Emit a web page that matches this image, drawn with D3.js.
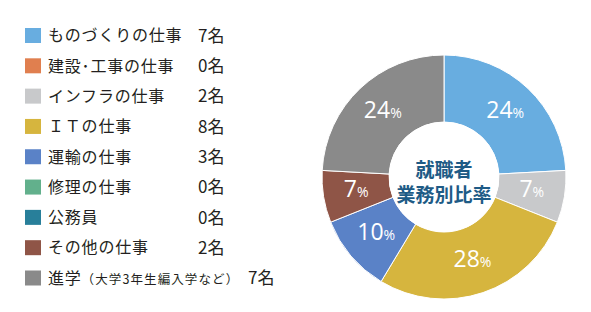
<!DOCTYPE html>
<html>
<head>
<meta charset="utf-8">
<script src="https://cdn.jsdelivr.net/npm/d3@7"></script>
<style>
  html, body { margin: 0; padding: 0; background: #fff; }
  svg { display: block; }
  text { font-family: "Noto Sans CJK JP", "Noto Sans", sans-serif; }
</style>
</head>
<body>
<div id="chart"></div>
<script>
// Data
const categories = ['ものづくりの仕事', '建設･工事の仕事', 'インフラの仕事', 'ＩＴの仕事', '運輸の仕事', '修理の仕事', '公務員', 'その他の仕事', '進学'];
const counts = [7, 0, 2, 8, 3, 0, 0, 2, 7];
const colors = ['#68ade0', '#e07f4f', '#c8c9cb', '#d6b53e', '#5a82c7', '#62b08c', '#287f9a', '#8f5547', '#8a8a8a'];
const centerLines = ['就職者', '業務別比率'];

const width = 591;
const height = 312;

const svg = d3.select('#chart')
  .append('svg')
  .attr('width', width)
  .attr('height', height);

// Legend
const rowY = d3.scalePoint()
  .domain(d3.range(categories.length))
  .range([35.5, 278]);

const legend = svg.append('g');
const row = legend.selectAll('g')
  .data(categories)
  .join('g')
    .attr('transform', (d, i) => `translate(0,${rowY(i)})`);

row.append('rect')
  .attr('x', 25)
  .attr('y', -7.5)
  .attr('width', 16)
  .attr('height', 15)
  .attr('fill', (d, i) => colors[i]);

row.append('text')
  .attr('x', 48)
  .attr('dy', '0.36em')
  .attr('font-size', 16)
  .attr('letter-spacing', 0.8)
  .attr('fill', '#231f20')
  .each(function(d, i) {
    const t = d3.select(this);
    if (i === categories.length - 1) {
      t.append('tspan').text(d);
      t.append('tspan')
        .attr('font-size', 12.5)
        .attr('letter-spacing', 1.1)
        .text('（大学3年生編入学など）');
    } else {
      t.text(d);
    }
  });

row.append('text')
  .attr('x', (d, i) => i === categories.length - 1 ? 248 : 198)
  .attr('dy', '0.36em')
  .attr('font-size', 17)
  .attr('fill', '#231f20')
  .text((d, i) => `${counts[i]}名`);

// Donut
const cx = 444, cy = 177;
const outerR = 122, innerR = 55;
const total = d3.sum(counts);

const slices = categories.map((c, i) => ({ name: c, value: counts[i], color: colors[i] }))
  .filter(d => d.value > 0);

const pie = d3.pie()
  .value(d => d.value)
  .sort(null);

const arc = d3.arc()
  .innerRadius(innerR)
  .outerRadius(outerR);

const labelArc = d3.arc()
  .innerRadius(89)
  .outerRadius(89);

const donut = svg.append('g')
  .attr('transform', `translate(${cx},${cy})`);

const arcs = pie(slices);

donut.selectAll('path')
  .data(arcs)
  .join('path')
    .attr('d', arc)
    .attr('fill', d => d.data.color)
    .attr('stroke', '#fff')
    .attr('stroke-width', 1);

const pct = donut.selectAll('text.pct')
  .data(arcs)
  .join('text')
    .attr('class', 'pct')
    .attr('transform', d => `translate(${labelArc.centroid(d)})`)
    .attr('text-anchor', 'middle')
    .attr('dy', '0.36em')
    .attr('fill', '#fff')
    .style('font-family', '"Open Sans", sans-serif');

pct.append('tspan')
  .attr('font-size', 23)
  .text(d => Math.round(d.data.value / total * 100));
pct.append('tspan')
  .attr('font-size', 14)
  .text('%');

donut.append('circle')
  .attr('r', innerR)
  .attr('fill', '#fff');

donut.selectAll('text.center')
  .data(centerLines)
  .join('text')
    .attr('class', 'center')
    .attr('text-anchor', 'middle')
    .attr('y', (d, i) => -7 + i * 25)
    .attr('dy', '0.36em')
    .attr('font-size', 19)
    .attr('font-weight', 'bold')
    .attr('fill', '#1e5b86')
    .text(d => d);
</script>
</body>
</html>
